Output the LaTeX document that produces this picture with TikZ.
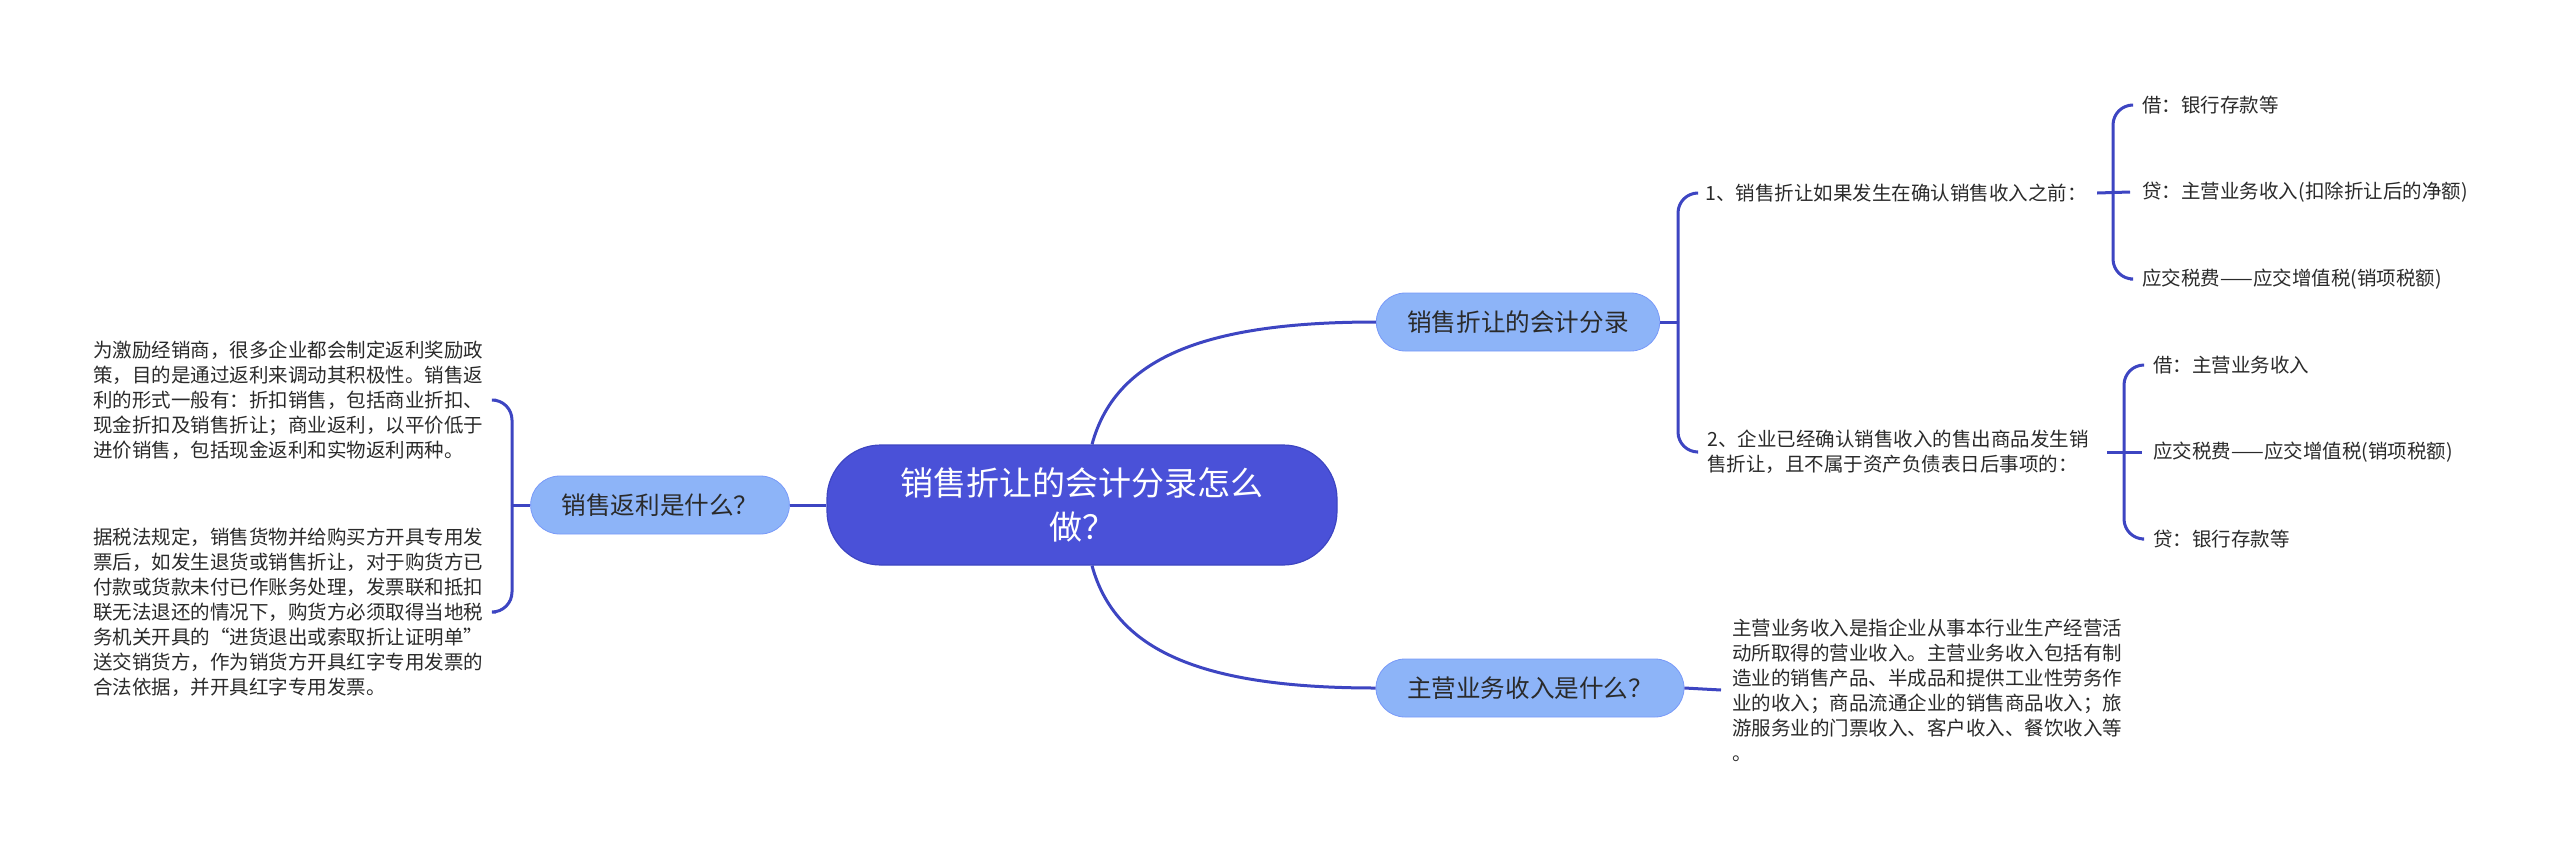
\documentclass[tikz,border=0pt]{standalone}
\usepackage{fontspec}
\setmainfont{Noto Sans CJK SC}
\definecolor{lineC}{HTML}{3D45C2}
\definecolor{rootC}{HTML}{4A51D8}
\definecolor{subC}{HTML}{8DB4F8}
\definecolor{txtC}{HTML}{2A2A2A}
\begin{document}
\begin{tikzpicture}[x=0.5pt,y=-0.5pt,
  conn/.style={draw=lineC, line width=1.5pt},
  brk/.style={conn, rounded corners=10pt},
  rootnode/.style={fill=rootC, draw=lineC, line width=0.6pt, rounded corners=27pt,
    minimum width=255pt, minimum height=60pt, text=white,
    font=\fontsize{16.5}{22}\selectfont, align=center, inner sep=0pt},
  topic/.style={fill=subC, draw=subC!85!blue, line width=0.4pt, rounded corners=14.5pt,
    minimum height=29pt, inner xsep=15.5pt, inner ysep=0pt, text=txtC,
    font=\fontsize{12.3}{15}\selectfont},
  leaf/.style={text=txtC, font=\fontsize{9.75}{12.5}\selectfont, inner sep=0pt,
    anchor=west, align=left}]
\useasboundingbox (0,0) rectangle (2560,857);

% nodes
\node[rootnode] (root) at (1082,505) {销售折让的会计分录怎么\\做？};
\node[topic] (t1) at (1518,322) {销售折让的会计分录};
\node[topic] (t2) at (1530,688) {主营业务收入是什么？};
\node[topic] (t3) at (660,505) {销售返利是什么？};

\node[leaf] (la) at (1705,193) {1、销售折让如果发生在确认销售收入之前：};
\node[leaf] (lb) at (1707,452) {2、企业已经确认销售收入的售出商品发生销\\售折让，且不属于资产负债表日后事项的：};

\node[leaf] (a1) at (2142,105) {借：银行存款等};
\node[leaf] (a2) at (2142,192) {贷：主营业务收入(扣除折让后的净额)};
\node[leaf] (a3) at (2142,279) {应交税费——应交增值税(销项税额)};

\node[leaf] (b1) at (2153,365) {借：主营业务收入};
\node[leaf] (b2) at (2153,452) {应交税费——应交增值税(销项税额)};
\node[leaf] (b3) at (2153,539) {贷：银行存款等};

\node[leaf] (c) at (1732,690) {主营业务收入是指企业从事本行业生产经营活\\动所取得的营业收入。主营业务收入包括有制\\造业的销售产品、半成品和提供工业性劳务作\\业的收入；商品流通企业的销售商品收入；旅\\游服务业的门票收入、客户收入、餐饮收入等\\。};

\node[leaf] (p1) at (93,400) {为激励经销商，很多企业都会制定返利奖励政\\策，目的是通过返利来调动其积极性。销售返\\利的形式一般有：折扣销售，包括商业折扣、\\现金折扣及销售折让；商业返利，以平价低于\\进价销售，包括现金返利和实物返利两种。};
\node[leaf] (p2) at (93,612) {据税法规定，销售货物并给购买方开具专用发\\票后，如发生退货或销售折让，对于购货方已\\付款或货款未付已作账务处理，发票联和抵扣\\联无法退还的情况下，购货方必须取得当地税\\务机关开具的“进货退出或索取折让证明单”\\送交销货方，作为销货方开具红字专用发票的\\合法依据，并开具红字专用发票。};

% junctions
\coordinate (j1) at (1678,322);
\coordinate (ja) at (2113,192);
\coordinate (jb) at (2124,452);
\coordinate (jl) at (512,505);

% root connectors
\draw[conn] ([xshift=5pt]root.north) .. controls (1115,360) and (1200,322) .. (t1.west);
\draw[conn] ([xshift=5pt]root.south) .. controls (1115,650) and (1200,688) .. (t2.west);
\draw[conn] (root.west) -- (t3.east);

% t1 bracket
\draw[conn] (t1.east) -- (j1);
\draw[brk] (j1) |- ([xshift=-5pt]la.west);
\draw[brk] (j1) |- ([xshift=-5pt]lb.west);

% la bracket
\draw[conn] ([xshift=5pt]la.east) -- ([xshift=-6pt]a2.west);
\draw[brk] (ja) |- ([xshift=-6pt]a1.west);
\draw[brk] (ja) |- ([xshift=-6pt]a3.west);

% lb bracket
\draw[conn] ([xshift=9pt]lb.east) -- ([xshift=-5.5pt]b2.west);
\draw[brk] (jb) |- ([xshift=-5.5pt]b1.west);
\draw[brk] (jb) |- ([xshift=-5.5pt]b3.west);

% t2 to paragraph
\draw[conn] (t2.east) -- ([xshift=-5.5pt]c.west);

% left bracket
\draw[conn] (jl) -- (t3.west);
\draw[brk] (jl) |- ([xshift=6pt]p1.east);
\draw[brk] (jl) |- ([xshift=6pt]p2.east);
\end{tikzpicture}
\end{document}
